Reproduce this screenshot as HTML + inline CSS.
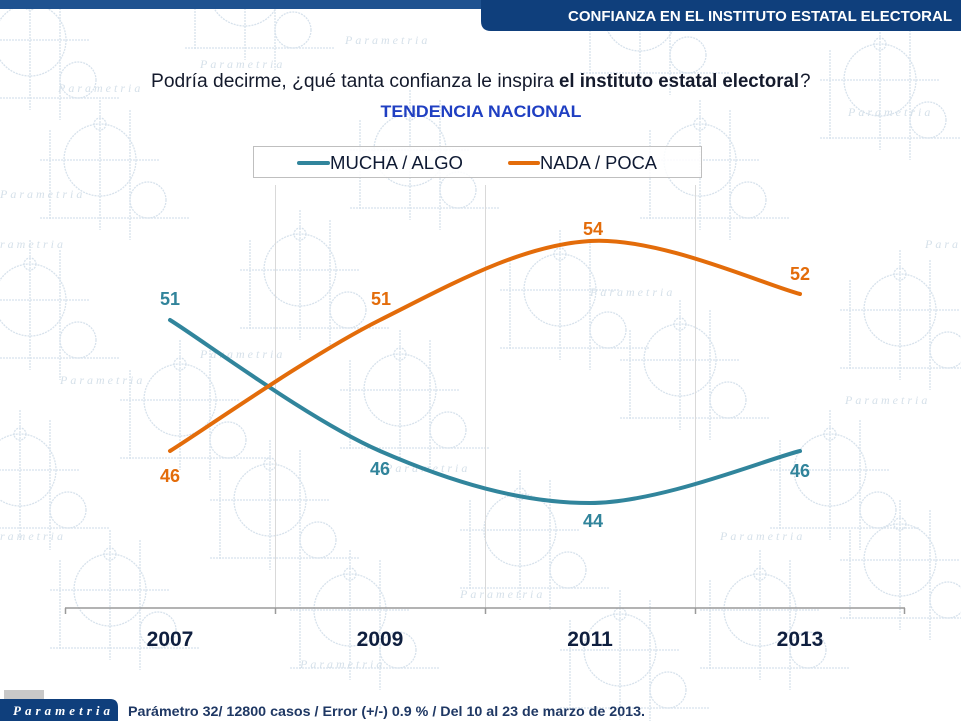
<!DOCTYPE html>
<html><head><meta charset="utf-8"><style>
html,body{margin:0;padding:0;background:#fff;}
svg{display:block;font-family:"Liberation Sans",sans-serif;}
</style></head><body>
<svg width="961" height="721" viewBox="0 0 961 721" xmlns="http://www.w3.org/2000/svg">
<defs>
<g id="m" fill="none" stroke="#d3dfea" stroke-width="1.3" stroke-dasharray="2 1">
<circle cx="0" cy="0" r="36"/>
<circle cx="0" cy="-36" r="6"/>
<circle cx="48" cy="40" r="18"/>
<line x1="-60" y1="0" x2="60" y2="0"/>
<line x1="0" y1="-60" x2="0" y2="70"/>
<line x1="-50" y1="-30" x2="-50" y2="60"/>
<line x1="-60" y1="58" x2="90" y2="58"/>
<line x1="30" y1="-50" x2="30" y2="80"/>
</g>
</defs>
<rect width="961" height="721" fill="#fff"/>
<!-- watermark -->
<g opacity="0.9">
<use href="#m" x="30" y="40"/>
<use href="#m" x="245" y="-10"/>
<use href="#m" x="640" y="15"/>
<use href="#m" x="880" y="80"/>
<use href="#m" x="100" y="160"/>
<use href="#m" x="410" y="150"/>
<use href="#m" x="700" y="160"/>
<use href="#m" x="30" y="300"/>
<use href="#m" x="300" y="270"/>
<use href="#m" x="560" y="290"/>
<use href="#m" x="900" y="310"/>
<use href="#m" x="180" y="400"/>
<use href="#m" x="400" y="390"/>
<use href="#m" x="680" y="360"/>
<use href="#m" x="20" y="470"/>
<use href="#m" x="270" y="500"/>
<use href="#m" x="520" y="530"/>
<use href="#m" x="830" y="470"/>
<use href="#m" x="110" y="590"/>
<use href="#m" x="350" y="610"/>
<use href="#m" x="620" y="650"/>
<use href="#m" x="900" y="560"/>
<use href="#m" x="760" y="610"/>
</g>
<g font-family="Liberation Serif,serif" font-style="italic" font-size="12" fill="#d6e1ea" letter-spacing="3">
<text x="58" y="92">Parametria</text>
<text x="200" y="68">Parametria</text>
<text x="345" y="44">Parametria</text>
<text x="848" y="116">Parametria</text>
<text x="0" y="248">rametria</text>
<text x="925" y="248">Para</text>
<text x="0" y="198">Parametria</text>
<text x="60" y="384">Parametria</text>
<text x="845" y="404">Parametria</text>
<text x="385" y="472">Parametria</text>
<text x="0" y="540">rametria</text>
<text x="720" y="540">Parametria</text>
<text x="200" y="358">Parametria</text>
<text x="590" y="296">Parametria</text>
<text x="300" y="668">Parametria</text>
<text x="460" y="598">Parametria</text>
</g>

<!-- header -->
<rect x="0" y="0" width="961" height="9" fill="#1f5290"/>
<path d="M481 0 H961 V31 H491 Q481 31 481 21 Z" fill="#0f3f7c"/>
<text x="952" y="21" text-anchor="end" font-size="15" font-weight="bold" fill="#fff" textLength="384" lengthAdjust="spacingAndGlyphs">CONFIANZA EN EL INSTITUTO ESTATAL ELECTORAL</text>

<!-- title -->
<text x="151" y="87" font-size="19" fill="#141a2c" textLength="403" lengthAdjust="spacingAndGlyphs">Podría decirme, ¿qué tanta confianza le inspira</text>
<text x="559" y="87" font-size="19" font-weight="bold" fill="#141a2c" textLength="240" lengthAdjust="spacingAndGlyphs">el instituto estatal electoral</text>
<text x="800" y="87" font-size="19" fill="#141a2c">?</text>
<text x="481" y="117" text-anchor="middle" font-size="17" font-weight="bold" fill="#1f3fc2" textLength="201" lengthAdjust="spacingAndGlyphs">TENDENCIA NACIONAL</text>

<!-- legend -->
<rect x="253.5" y="146.5" width="448" height="31" fill="#fff" fill-opacity="0.85" stroke="#bfbfbf" stroke-width="1"/>
<line x1="299" y1="163" x2="328" y2="163" stroke="#31859c" stroke-width="4" stroke-linecap="round"/>
<text x="330" y="169" font-size="18" fill="#0f1a33" textLength="133" lengthAdjust="spacingAndGlyphs">MUCHA / ALGO</text>
<line x1="510" y1="163" x2="538" y2="163" stroke="#e36c0a" stroke-width="4" stroke-linecap="round"/>
<text x="540" y="169" font-size="18" fill="#0f1a33" textLength="117" lengthAdjust="spacingAndGlyphs">NADA / POCA</text>

<!-- gridlines -->
<g stroke="#d9d9d9" stroke-width="1">
<line x1="275.5" y1="185" x2="275.5" y2="608"/>
<line x1="485.5" y1="185" x2="485.5" y2="608"/>
<line x1="695.5" y1="185" x2="695.5" y2="608"/>
</g>
<!-- axis -->
<g stroke="#9a9a9a" stroke-width="1.5">
<line x1="65" y1="608" x2="905" y2="608"/>
<line x1="65.5" y1="608" x2="65.5" y2="614"/>
<line x1="275.5" y1="608" x2="275.5" y2="614"/>
<line x1="485.5" y1="608" x2="485.5" y2="614"/>
<line x1="695.5" y1="608" x2="695.5" y2="614"/>
<line x1="904.5" y1="608" x2="904.5" y2="614"/>
</g>
<g font-size="21" font-weight="bold" fill="#0f1f3f" text-anchor="middle">
<text x="170" y="646">2007</text>
<text x="380" y="646">2009</text>
<text x="590" y="646">2011</text>
<text x="800" y="646">2013</text>
</g>

<!-- series -->
<path d="M170 320 C205 341.8 310 420.5 380 451 C450 481.5 520 503 590 503 C660 503 765 459.7 800 451" fill="none" stroke="#31859c" stroke-width="4" stroke-linecap="round"/>
<path d="M170 451 C205 429.2 310 355 380 320 C450 285 520 245.3 590 241 C660 236.7 765 285.2 800 294" fill="none" stroke="#e36c0a" stroke-width="4" stroke-linecap="round"/>

<g font-size="18" font-weight="bold" text-anchor="middle">
<text x="170" y="305" fill="#31849b">51</text>
<text x="380" y="475" fill="#31849b">46</text>
<text x="593" y="527" fill="#31849b">44</text>
<text x="800" y="477" fill="#31849b">46</text>
<text x="170" y="482" fill="#e36c0a">46</text>
<text x="381" y="305" fill="#e36c0a">51</text>
<text x="593" y="235" fill="#e36c0a">54</text>
<text x="800" y="280" fill="#e36c0a">52</text>
</g>

<!-- footer -->
<rect x="4" y="690" width="40" height="10" fill="#b0b0b0" opacity="0.7"/>
<path d="M0 699 H110 Q118 699 118 707 V721 H0 Z" fill="#0f3f7c"/>
<text x="13" y="715" font-family="Liberation Serif,serif" font-style="italic" font-weight="bold" font-size="13" fill="#fff" textLength="97" lengthAdjust="spacing">Parametria</text>
<text x="128" y="716" font-size="14" font-weight="bold" fill="#1f3864" textLength="517" lengthAdjust="spacingAndGlyphs">Parámetro 32/ 12800 casos / Error (+/-) 0.9 % / Del 10 al 23 de marzo de 2013.</text>
</svg>
</body></html>
